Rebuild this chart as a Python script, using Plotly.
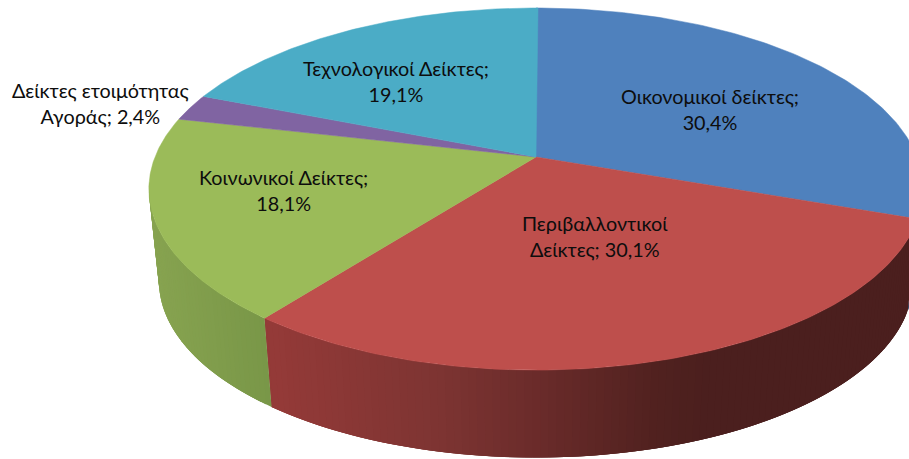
import numpy as np
import plotly.graph_objects as go

categories = ["Οικονομικοί δείκτες", "Περιβαλλοντικοί Δείκτες", "Κοινωνικοί Δείκτες",
              "Δείκτες ετοιμότητας Αγοράς", "Τεχνολογικοί Δείκτες"]
values = [30.4, 30.1, 18.1, 2.4, 19.1]

colors = ["#4F81BD", "#BE4F4C", "#9BBB59", "#8064A2", "#4BACC6"]
label_lines = ["Οικονομικοί δείκτες;<br>{}", "Περιβαλλοντικοί<br>Δείκτες; {}",
               "Κοινωνικοί Δείκτες;<br>{}", "Δείκτες ετοιμότητας<br>Αγοράς; {}",
               "Τεχνολογικοί Δείκτες;<br>{}"]
label_x = [710, 595, 283, 100, 396]
label_y = [108.5, 235.5, 189.5, 102.5, 81]

# 3D-pie projection
CX, CY = 536.0, 157.0
A, B, K = 381.0, 175.4, 0.177
DEPTH, SCALE = 93.0, 0.974


def project(theta_deg, bottom=False):
    t = np.radians(theta_deg)
    u, v = np.sin(t), np.cos(t)
    w = 1 + K * v
    s = SCALE if bottom else 1.0
    d = DEPTH if bottom else 0.0
    return CX + s * A * u / w, CY + d - s * B * v / w


def side_color(slice_i, x):
    stops = {
        0: ([700, 909], [(47, 77, 113), (47, 77, 113)]),
        1: ([272, 440, 530, 660, 710, 909],
            [(148, 58, 56), (125, 52, 50), (108, 44, 43), (80, 33, 31), (75, 31, 30), (75, 31, 30)]),
        2: ([150, 272], [(135, 163, 80), (120, 150, 71)]),
    }.get(slice_i)
    if stops is None:
        return None
    xs, cs = stops
    rgb = [int(round(np.interp(x, xs, [c[i] for c in cs]))) for i in range(3)]
    return f"rgb({rgb[0]},{rgb[1]},{rgb[2]})"


edges = np.concatenate([[0], np.cumsum(values)]) * 3.6
fig = go.Figure()

# side wall strips: each strip runs on under the next so no seams show
for i in range(3):
    a0, a1 = edges[i], edges[i + 1]
    lo, hi = max(a0, 95), min(a1, 262)
    if hi <= lo:
        continue
    starts = np.arange(lo, hi, 1.0)
    for t0 in starts:
        th = np.linspace(t0, min(t0 + 3.0, hi), 4)
        xt, yt = project(th)
        xb, yb = project(th, True)
        c = side_color(i, float(np.mean(project(np.array([t0, t0 + 1.0]))[0])))
        fig.add_trace(go.Scatter(x=np.r_[xt, xb[::-1], xt[0]], y=np.r_[yt, yb[::-1], yt[0]],
                                 mode="lines", fill="toself", fillcolor=c,
                                 line=dict(width=0),
                                 hoverinfo="skip", showlegend=False))

# top faces
for i, name in enumerate(categories):
    th = np.linspace(edges[i], edges[i + 1], 120)
    px, py = project(th)
    fig.add_trace(go.Scatter(x=np.r_[CX, px, CX], y=np.r_[CY, py, CY], mode="lines", fill="toself",
                             fillcolor=colors[i], line=dict(color=colors[i], width=0.5),
                             name=name, hoverinfo="skip", showlegend=False))

annotations = [
    dict(x=label_x[i], y=label_y[i], xref="x", yref="y", showarrow=False, align="center",
         text=label_lines[i].format(f"{values[i]:.1f}".replace(".", ",") + "%"),
         font=dict(family="Lato, Noto Sans, sans-serif", size=19.8, color="#0d0d0d"))
    for i in range(len(values))
]

fig.update_layout(
    width=909, height=459, margin=dict(l=0, r=0, t=0, b=0),
    paper_bgcolor="white", plot_bgcolor="white", annotations=annotations,
    xaxis=dict(range=[0, 909], visible=False, fixedrange=True),
    yaxis=dict(range=[459, 0], visible=False, fixedrange=True),
)
fig.write_html("out.html", config={"displayModeBar": False},
               post_script="document.body.style.margin='0';document.body.style.overflow='hidden';")
